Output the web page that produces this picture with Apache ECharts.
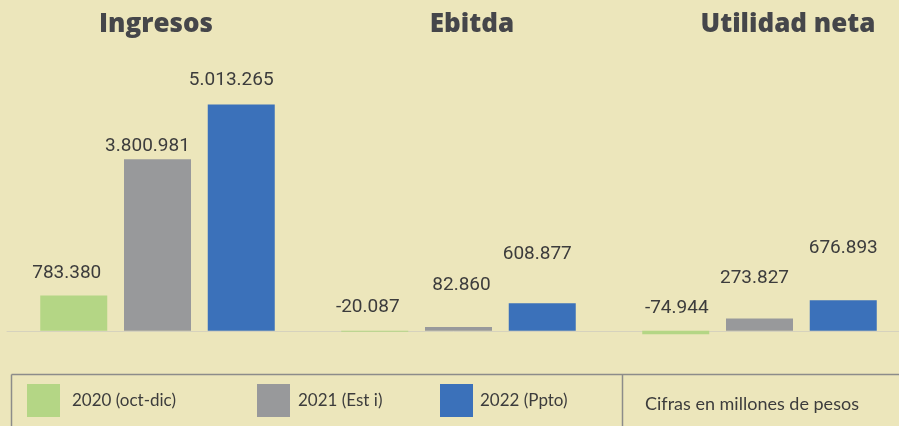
<!DOCTYPE html>
<html>
<head>
<meta charset="utf-8">
<script src="https://cdn.jsdelivr.net/npm/echarts@6/dist/echarts.min.js"></script>
<style>
  html, body { margin: 0; padding: 0; background: #ece6bb; }
  #main { width: 899px; height: 426px; }
</style>
</head>
<body>
<div id="main"></div>
<script>
// datos (cifras en millones de pesos)
var categories = ['Ingresos', 'Ebitda', 'Utilidad neta'];
var seriesNames = ['2020 (oct-dic)', '2021 (Est i)', '2022 (Ppto)'];
var v2020 = [783380, -20087, -74944];
var v2021 = [3800981, 82860, 273827];
var v2022 = [5013265, 608877, 676893];

var colors = ['#b4d685', '#98999b', '#3b71ba'];

// ajuste manual de etiquetas (como en el original)
var labelShift = [
  [[-7, -8], [-7, -9], [1, -8]],
  [[-10, 2], [3, -27], [-5, -26]],
  [[-10, -10], [-5, -35], [0, -37]]
];

function fmt(v) {
  var s = Math.abs(v).toString().replace(/\B(?=(\d{3})+(?!\d))/g, '.');
  return (v < 0 ? '-' : '') + s;
}

var chartDom = document.getElementById('main');
var myChart = echarts.init(chartDom);

var allVals = [v2020, v2021, v2022];
var series = allVals.map(function (vals, si) {
  return {
    name: seriesNames[si],
    type: 'bar',
    barWidth: 67,
    barGap: '25%',
    itemStyle: { color: colors[si] },
    data: vals.map(function (v, ci) {
      return {
        value: v,
        label: { offset: labelShift[si][ci] }
      };
    }),
    label: {
      show: true,
      position: 'top',
      color: '#3c3c3c',
      fontFamily: 'Roboto',
      fontSize: 19,
      formatter: function (p) { return fmt(p.value); }
    }
  };
});

var legendX = [27, 257, 440];
var legendPad = [7, 3, 2];

var titleFont = { fill: '#45464a', fontFamily: 'Open Sans', fontWeight: 800, fontSize: 26 };
function titleText(txt, x) {
  return {
    type: 'text', x: x, y: 25,
    style: Object.assign({ text: txt, align: 'center', verticalAlign: 'middle' }, titleFont)
  };
}

myChart.setOption({
  backgroundColor: '#ece6bb',
  animation: false,
  grid: { left: 7, width: 903, top: 60, bottom: 5, outerBoundsMode: 'none' },
  xAxis: {
    type: 'category',
    data: categories,
    axisLine: { lineStyle: { color: '#d6d2bd', width: 1 } },
    axisTick: { show: false },
    axisLabel: { show: false }
  },
  yAxis: {
    type: 'value',
    min: -2000000,
    max: 6000000,
    show: false,
    splitLine: { show: false }
  },
  legend: seriesNames.map(function (n, i) {
    return {
      data: [n],
      left: legendX[i],
      top: 384,
      padding: 0,
      icon: 'rect',
      itemWidth: 33,
      itemHeight: 33,
      selectedMode: false,
      textStyle: {
        color: '#3c3c3c',
        fontFamily: 'Lato',
        fontSize: 17,
        padding: [4, 0, 0, legendPad[i]]
      }
    };
  }),
  graphic: [
    titleText('Ingresos', 156),
    titleText('Ebitda', 472),
    titleText('Utilidad neta', 788),
    { type: 'line', shape: { x1: 11.5, y1: 374.5, x2: 899, y2: 374.5 }, style: { stroke: '#8c8c8a', lineWidth: 1.5 } },
    { type: 'line', shape: { x1: 11.5, y1: 374.5, x2: 11.5, y2: 426 }, style: { stroke: '#8c8c8a', lineWidth: 1.5 } },
    { type: 'line', shape: { x1: 622.5, y1: 374.5, x2: 622.5, y2: 426 }, style: { stroke: '#8c8c8a', lineWidth: 1.5 } },
    { type: 'text', x: 645, y: 404, style: { text: 'Cifras en millones de pesos', verticalAlign: 'middle', fill: '#3c3c3c', fontFamily: 'Lato', fontSize: 18 } }
  ],
  series: series
});

window.addEventListener('resize', function () {
  myChart.resize();
});
</script>
</body>
</html>
